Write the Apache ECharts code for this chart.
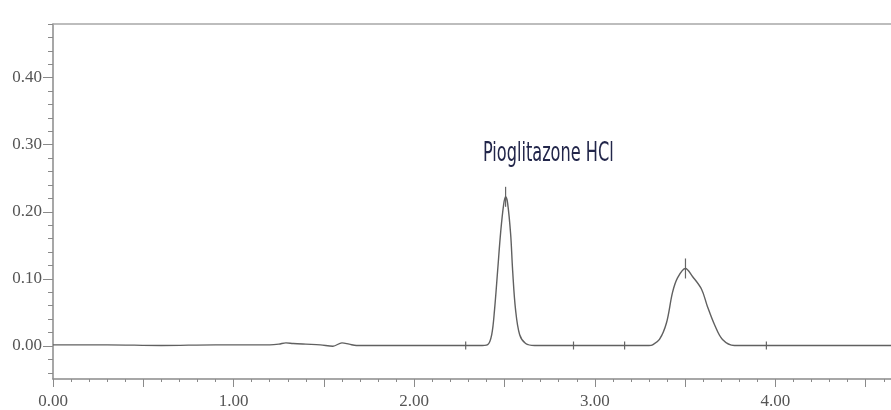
<!DOCTYPE html>
<html>
<head>
<meta charset="utf-8">
<script src="https://cdn.jsdelivr.net/npm/echarts@6/dist/echarts.min.js"></script>
<style>
html,body{margin:0;padding:0;background:#fff;}
#chart{width:891px;height:410px;}
</style>
</head>
<body>
<div id="chart"></div>
<script>
// Retention time (min) of the chromatogram trace
const times = [0.00,0.30,0.60,0.90,1.20,1.25,1.29,1.33,1.40,1.48,1.55,1.60,1.64,1.68,1.80,2.00,2.20,2.36,
  2.407,2.429,2.445,2.462,2.479,2.495,2.506,2.517,2.534,2.545,2.561,2.584,2.617,2.667,
  2.90,3.10,3.30,3.320,3.358,3.397,3.430,3.458,3.502,3.541,3.591,3.624,3.663,3.707,3.773,4.00,4.30,4.64];
// Absorbance (AU)
const signal = [0.001,0.001,0.000,0.001,0.001,0.002,0.004,0.003,0.002,0.001,-0.001,0.004,0.002,0.000,0.000,0.000,0.000,0.000,
  0.0015,0.016,0.054,0.112,0.170,0.210,0.222,0.213,0.166,0.112,0.054,0.016,0.003,0.000,
  0.000,0.000,0.000,0.001,0.009,0.034,0.079,0.101,0.115,0.103,0.084,0.058,0.031,0.009,0.000,0.000,0.000,0.000];
// Peak apex markers
const peakTimes = [2.506, 3.502];
const peakHeights = [0.222, 0.115];
// Integration event marks on the baseline
const eventTimes = [2.285, 2.882, 3.165, 3.950];
const eventLevels = [0, 0, 0, 0];
// Axis tick labels
const xTickLabels = ['0.00','1.00','2.00','3.00','4.00'];
const yTickLabels = ['0.00','0.10','0.20','0.30','0.40'];
const peakName = 'Pioglitazone HCl';

const chart = echarts.init(document.getElementById('chart'));
const H = 410;
const L = 53, T = 24, B = 30.5;
const yMin = -0.05, yMax = 0.48, xMin = 0, xMax = 4.64;
const ppu = (H - T - B) / (yMax - yMin);
const yPix = v => T + (yMax - v) * ppu;

const axisColor = '#8a8a8a';
const labelFont = {fontFamily: '"Liberation Serif","DejaVu Serif",serif', fontSize: 17, color: '#555'};

function vmark(half) {
  return function (params, api) {
    const p = api.coord([api.value(0), api.value(1)]);
    return {type: 'line', shape: {x1: p[0], y1: p[1] - half, x2: p[0], y2: p[1] + half},
      style: {stroke: '#666', lineWidth: 1.2}};
  };
}

const option = {
  animation: false,
  backgroundColor: '#fff',
  grid: [
    {left: L, right: 0, top: T, bottom: B},
    {left: L, right: 0, top: T, bottom: H - yPix(-0.04)},
    {left: L, right: 0, top: yPix(0.40), bottom: H - yPix(0)}
  ],
  xAxis: [
    {gridIndex: 0, type: 'value', min: xMin, max: xMax, interval: 0.5, position: 'bottom',
      axisLine: {show: true, onZero: false, lineStyle: {color: axisColor, width: 1.5}},
      axisTick: {show: true, inside: false, length: 8, lineStyle: {color: axisColor}},
      minorTick: {show: true, splitNumber: 5, length: 3, lineStyle: {color: axisColor}},
      splitLine: {show: false},
      axisLabel: Object.assign({margin: 14, showMaxLabel: false, formatter: function (v) {
        const i = Math.round(v);
        return Math.abs(v - i) < 1e-6 && xTickLabels[i] !== undefined ? xTickLabels[i] : '';
      }}, labelFont)},
    {gridIndex: 0, type: 'value', min: xMin, max: xMax, position: 'top',
      axisLine: {show: true, onZero: false, lineStyle: {color: '#a8a8a8', width: 1.5}},
      axisTick: {show: false}, axisLabel: {show: false}, splitLine: {show: false}},
    {gridIndex: 1, type: 'value', min: xMin, max: xMax, show: false},
    {gridIndex: 2, type: 'value', min: xMin, max: xMax, show: false}
  ],
  yAxis: [
    {gridIndex: 0, type: 'value', min: yMin, max: yMax,
      axisLine: {show: true, onZero: false, lineStyle: {color: axisColor, width: 1.5}},
      axisTick: {show: false}, axisLabel: {show: false}, splitLine: {show: false}},
    {gridIndex: 1, type: 'value', min: -0.04, max: yMax, interval: 0.02,
      axisLine: {show: false}, axisTick: {show: true, length: 5, lineStyle: {color: axisColor}},
      axisLabel: {show: false}, splitLine: {show: false}},
    {gridIndex: 2, type: 'value', min: 0, max: 0.4, interval: 0.1,
      axisLine: {show: false}, axisTick: {show: true, length: 10, lineStyle: {color: axisColor}},
      splitLine: {show: false},
      axisLabel: Object.assign({margin: 11, formatter: function (v) {
        return yTickLabels[Math.round(v * 10)] || '';
      }}, labelFont)}
  ],
  series: [
    {type: 'line', xAxisIndex: 0, yAxisIndex: 0, symbol: 'none', smooth: 0.35,
      lineStyle: {color: '#606060', width: 1.4},
      data: times.map((t, i) => [t, signal[i]])},
    {type: 'custom', xAxisIndex: 0, yAxisIndex: 0, renderItem: vmark(10),
      data: peakTimes.map((t, i) => [t, peakHeights[i]])},
    {type: 'custom', xAxisIndex: 0, yAxisIndex: 0, renderItem: vmark(4),
      data: eventTimes.map((t, i) => [t, eventLevels[i]])}
  ],
  graphic: [
    {type: 'text', left: 483, top: 141, scaleX: 0.69,
      style: {text: peakName, font: '26px "Liberation Sans Narrow","DejaVu Sans Condensed",sans-serif',
        fill: '#22264a'}}
  ]
};
chart.setOption(option);
</script>
</body>
</html>
